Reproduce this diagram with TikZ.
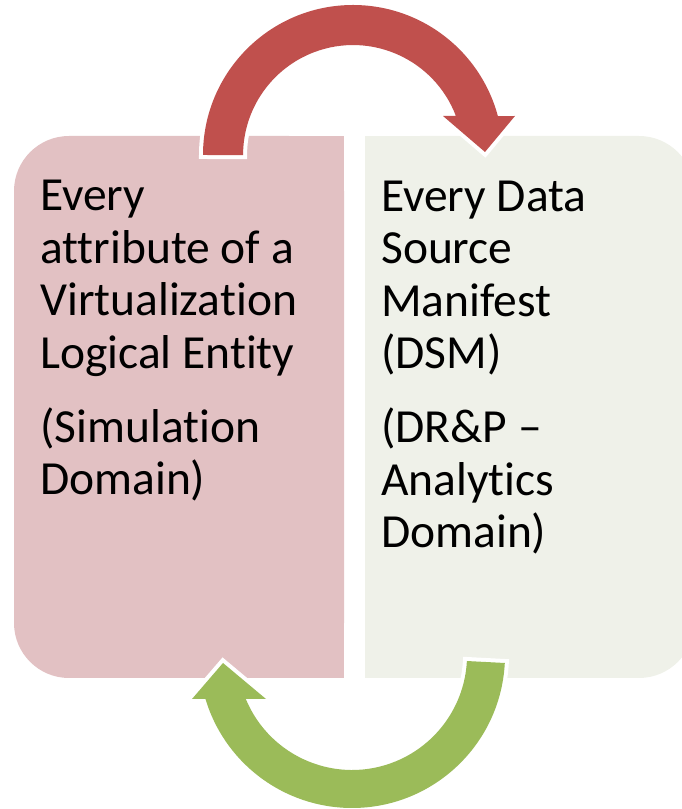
\documentclass[tikz,border=0pt]{standalone}
\usepackage{fontspec}
\setmainfont[Ligatures={TeX,NoCommon}]{Carlito}
\usepackage{tikz}

\definecolor{simfill}{HTML}{E2C1C3}
\definecolor{dspfill}{HTML}{EFF1E9}
\definecolor{redarrow}{HTML}{C0504D}
\definecolor{greenarrow}{HTML}{9BBB59}

\begin{document}
\begin{tikzpicture}[x=1pt, y=1pt,
		boxtext/.style={anchor=base west, inner sep=0pt, align=left, font=\fontsize{47.5}{52.5}\selectfont},
		cyclearrow/.style={preaction={draw=white, line width=8pt, line join=miter}}]
			\useasboundingbox (0,0) rectangle (682,809);
			%%%%%%%%%%%%%%%%%%%%%%%%%%%%%%%%
			\fill[simfill, rounded corners=55pt] (14,131) rectangle (344,673);
			\fill[simfill] (200,131) rectangle (344,673);
			\fill[dspfill, rounded corners=55pt] (365,131) rectangle (694,673);
			\fill[dspfill] (365,131) rectangle (500,673);
			%%%%%%%%%%%%%%%%%%%%%%%%%%%%%
			\fill[redarrow, cyclearrow] (203,654) arc[start angle=180, end angle=15, radius=150]
				-- (515,693) -- (485,657) -- (443,693) -- (455.9,693)
				arc[start angle=20.8, end angle=180, radius=110] -- cycle;
			\fill[greenarrow, cyclearrow] (504.8,146) arc[start angle=-3, end angle=-163.3, radius=153]
				-- (192,110) -- (223,146) -- (266,110) -- (245.8,110)
				arc[start angle=-157.5, end angle=-3, radius=115] -- cycle;
			%%%%%%%%%%%%%%%%%%%%%%%%%%%%%
			\node[boxtext] (simtext) at (40,314) {Every\\attribute of a\\Virtualization\\Logical Entity\\[21.5pt](Simulation\\Domain)};
			\node[boxtext] (dsmtext) at (381,261) {Every Data\\Source\\Manifest\\(DSM)\\[21.5pt](DR\&P –\\Analytics\\Domain)};
		\end{tikzpicture}
\end{document}
